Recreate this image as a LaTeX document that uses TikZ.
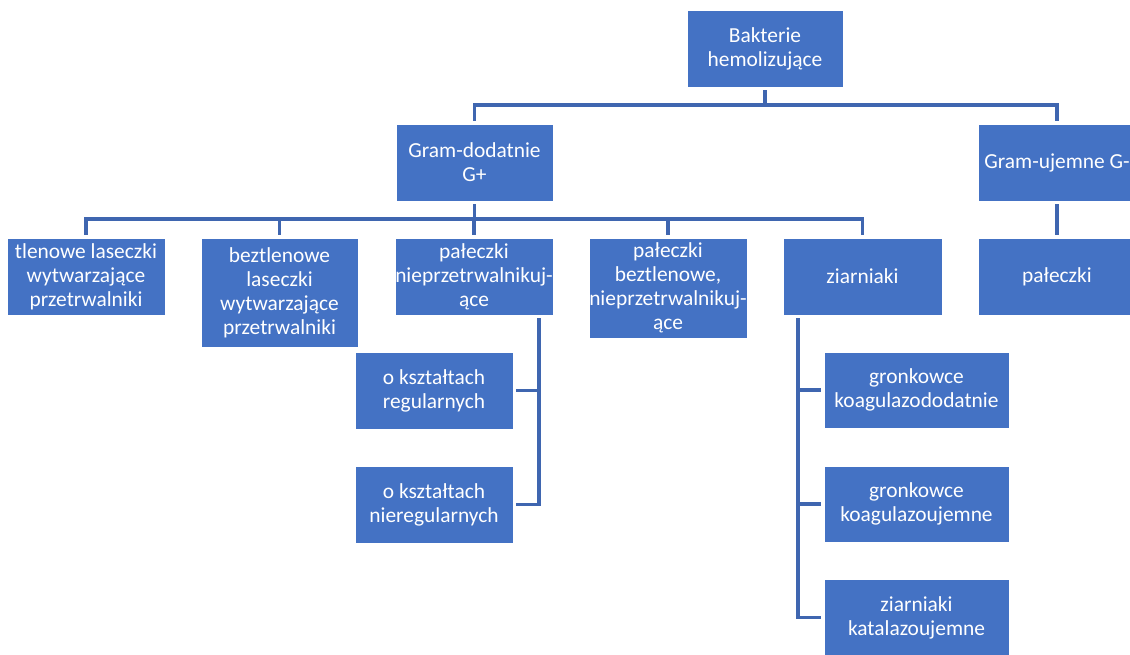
\documentclass[tikz,border=0pt]{standalone}
\usepackage{fontspec}
\setmainfont{Carlito}
\definecolor{boxblue}{HTML}{4472C4}
\definecolor{linkblue}{HTML}{3F66B0}
\tikzset{
  x=1pt, y=-1pt,
  box/.style={fill=boxblue, draw=white, line width=0.8pt, text=white,
    align=center, inner sep=0pt,
    font=\fontsize{21.4}{24}\selectfont},
  conn/.style={draw=linkblue, line width=3.2pt}
}
% \bx{name}{x1}{y1}{x2}{y2}{text}: a box given by its corners
\newcommand{\bx}[6]{%
  \node[box, minimum width={#4-#2}, minimum height={#5-#3}]
    (#1) at ({(#2+#4)/2},{(#3+#5)/2}) {#6};}
\begin{document}
\begin{tikzpicture}
\useasboundingbox (0,0) rectangle (1130,655);

% level 0 and 1
\bx{root}{687}{10}{843}{87}{Bakterie\\hemolizujące}
\bx{gpos}{396}{124}{553}{201}{Gram-dodatnie\\G+}
\bx{gneg}{978}{124}{1136}{201}{Gram-ujemne G-}
\bx{palneg}{978}{238}{1136}{315}{pałeczki}

% level 2 under Gram-dodatnie
\bx{tlen}{7}{238}{165}{315}{tlenowe laseczki\\wytwarzające\\przetrwalniki}
\bx{beztlen}{201}{238}{358}{347}{beztlenowe\\laseczki\\wytwarzające\\przetrwalniki}
\bx{palnp}{395}{238}{553}{315}{pałeczki\\nieprzetrwalnikuj-\\ące}
\bx{palbez}{589}{238}{747}{338}{pałeczki\\beztlenowe,\\nieprzetrwalnikuj-\\ące}
\bx{ziarn}{783}{238}{942}{315}{ziarniaki}

% level 3
\bx{reg}{355}{352}{513}{429}{o kształtach\\regularnych}
\bx{nreg}{355}{466}{513}{543}{o kształtach\\nieregularnych}
\bx{gkd}{824}{352}{1009}{428}{gronkowce\\koagulazododatnie}
\bx{gku}{824}{466}{1009}{542}{gronkowce\\koagulazoujemne}
\bx{zkat}{824}{579}{1009}{656}{ziarniaki\\katalazoujemne}

% connector buses
\coordinate (bus0) at (0,105);
\coordinate (bus1) at (0,219);
\coordinate (trunkA) at (539,0);
\coordinate (trunkB) at (798,0);

% root to Gram groups
\foreach \c in {gpos,gneg}
  \draw[conn] ([yshift=-3pt]root.south) |- (bus0 -| \c.north) -- ([yshift=3pt]\c.north);
\draw[conn] ([yshift=-3pt]gneg.south) -- ([yshift=3pt]palneg.north);

% Gram-dodatnie to its five groups
\foreach \c in {tlen,beztlen,palnp,palbez,ziarn}
  \draw[conn] ([yshift=-3pt]gpos.south) |- (bus1 -| \c.north) -- ([yshift=3pt]\c.north);

% side trunks
\foreach \c in {reg,nreg}
  \draw[conn] (trunkA |- palnp.south) ++(0,3) |- ([xshift=3pt]\c.east);
\foreach \c in {gkd,gku,zkat}
  \draw[conn] (trunkB |- ziarn.south) ++(0,3) |- ([xshift=-3pt]\c.west);
\end{tikzpicture}
\end{document}
